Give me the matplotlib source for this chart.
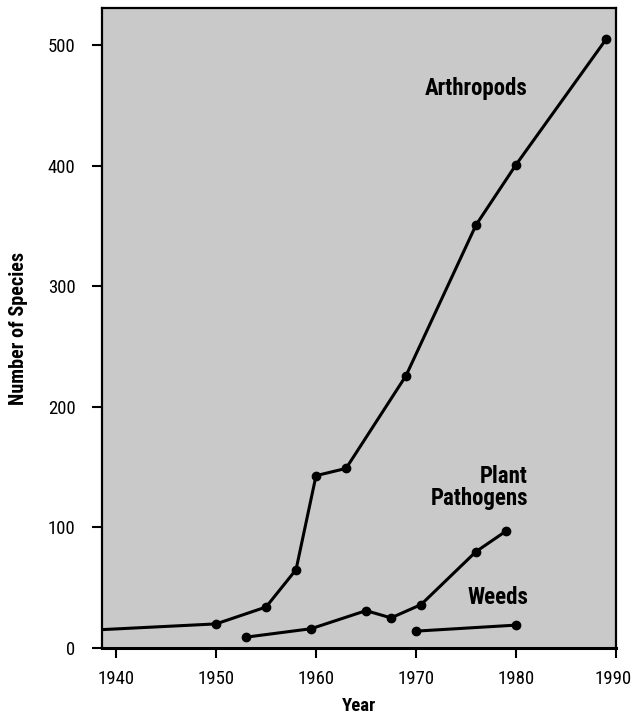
import matplotlib
matplotlib.use("Agg")
import matplotlib.pyplot as plt
import matplotlib.transforms as mtransforms

# ---- data ----
arth_years = [1938, 1950, 1955, 1958, 1960, 1963, 1969, 1976, 1980, 1989]
arth_vals = [15, 20, 34, 65, 143, 149, 226, 351, 401, 505]

path_years = [1953, 1959.5, 1965, 1967.5, 1970.5, 1976, 1979]
path_vals = [9, 16, 31, 25, 36, 80, 97]

weed_years = [1970, 1980]
weed_vals = [14, 19]

x_ticks = [1940, 1950, 1960, 1970, 1980, 1990]
y_ticks = [0, 100, 200, 300, 400, 500]

labels = ["Arthropods", "Plant\nPathogens", "Weeds"]
label_y = [464, 133, 42]

plt.rcParams['font.family'] = ['Roboto Condensed', 'DejaVu Sans']

fig = plt.figure(figsize=(6.31, 7.15), dpi=100)
ax = fig.add_axes([0.1617, 0.0937, 0.8146, 0.8951])
ax.set_facecolor('#c9c9c9')

lw = 2.2
ms = 6
ax.plot(arth_years, arth_vals, color='black', lw=lw, marker='o', ms=ms,
        markevery=list(range(1, len(arth_years))), clip_on=True)
ax.plot(path_years, path_vals, color='black', lw=lw, marker='o', ms=ms)
ax.plot(weed_years, weed_vals, color='black', lw=lw, marker='o', ms=ms)

for lab, yv in zip(labels, label_y):
    ax.text(1981.2, yv, lab, ha='right', va='center', fontsize=16.5,
            fontweight='bold', linespacing=0.95)

ax.set_xlim(1938.6, 1990)
ax.set_ylim(0, 531)
ax.set_xticks(x_ticks)
ax.set_yticks(y_ticks)
ax.tick_params(axis='both', direction='out', length=7, width=1.5,
               labelsize=13.5)
ax.tick_params(axis='y', pad=12)
ax.tick_params(axis='x', pad=9)

# keep the last x tick label inside the figure
last = ax.get_xticklabels()[-1]
last.set_transform(last.get_transform() +
                   mtransforms.ScaledTranslation(-3 / 100, 0, fig.dpi_scale_trans))

for s in ax.spines.values():
    s.set_linewidth(1.6)
ax.spines['bottom'].set_linewidth(2.2)

ax.set_xlabel('Year', fontsize=13.5, fontweight='bold', labelpad=6)
ax.set_ylabel('Number of Species', fontsize=14.5, fontweight='bold', labelpad=14)

fig.savefig('out.png', dpi=100)
